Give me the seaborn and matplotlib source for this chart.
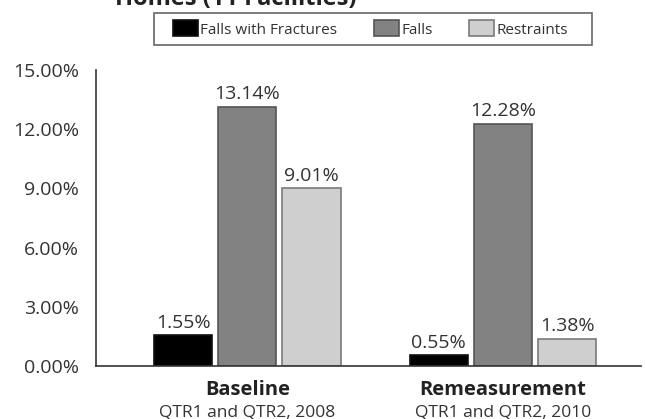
import matplotlib
matplotlib.use("Agg")
import matplotlib.pyplot as plt
from matplotlib.patches import Patch, Rectangle
from matplotlib.ticker import FuncFormatter
import seaborn as sns
import pandas as pd

# Measurement periods and their date ranges
periods = ["Baseline", "Remeasurement"]
period_dates = ["QTR1 and QTR2, 2008", "QTR1 and QTR2, 2010"]

# Indicator rates (%) per period
measures = ["Falls with Fractures", "Falls", "Restraints"]
falls_with_fractures = [1.55, 0.55]
falls = [13.14, 12.28]
restraints = [9.01, 1.38]

y_ticks = [0, 3, 6, 9, 12, 15]

fills = ["#000000", "#828282", "#cfcfcf"]
edges = ["#111111", "#555555", "#7a7a7a"]

df = pd.DataFrame({
    "period": periods * 3,
    "measure": [m for m in measures for _ in periods],
    "rate": falls_with_fractures + falls + restraints,
})

sns.set_theme(style="white")
plt.rcParams["font.family"] = ["Open Sans", "DejaVu Sans"]

W, H = 645, 419
fig = plt.figure(figsize=(W / 100, H / 100), dpi=100)
ax = fig.add_axes([96 / W, 1 - 366 / H, 545 / W, 296 / H])

sns.barplot(data=df, x="period", y="rate", hue="measure", order=periods,
            hue_order=measures, palette=fills, width=0.753, gap=0.095,
            ax=ax, legend=False, saturation=1)

for cont, ec in zip(ax.containers, edges):
    for bar in cont:
        bar.set_edgecolor(ec)
        bar.set_linewidth(1.2)
    ax.bar_label(cont, fmt="%.2f%%", padding=2.5, fontsize=14, color="#333333")

ax.set_ylim(0, 15)
ax.set_xlim(-0.592, 1.54)
ax.set_yticks(y_ticks)
ax.yaxis.set_major_formatter(FuncFormatter(lambda v, p: f"{v:.2f}%"))
ax.tick_params(axis="y", direction="in", length=9, width=1.1, color="#333333",
               labelsize=14, labelcolor="#333333", pad=12)
ax.tick_params(axis="x", length=0, labelbottom=False)
ax.set_xlabel("")
ax.set_ylabel("")
for side in ("top", "right"):
    ax.spines[side].set_visible(False)
for side in ("left", "bottom"):
    ax.spines[side].set_color("#333333")
    ax.spines[side].set_linewidth(1.2)

# Two-line category labels: bold period name, regular date range
for i, (p, d) in enumerate(zip(periods, period_dates)):
    ax.annotate(p, xy=(i, 0), xycoords=("data", "axes fraction"),
                xytext=(0, -29), textcoords="offset pixels",
                ha="center", va="baseline", fontsize=14.5, fontweight="bold",
                color="#222222")
    ax.annotate(d, xy=(i, 0), xycoords=("data", "axes fraction"),
                xytext=(0, -50), textcoords="offset pixels",
                ha="center", va="baseline", fontsize=12.5, color="#333333")

fig.text(115 / W, 1 - 5 / H, "Homes (11 Facilities)", fontsize=17,
         fontweight="bold", color="#222222", ha="left", va="baseline")

# Legend entries without a frame, inside a hand-placed box
handles = [Patch(facecolor=f, edgecolor=e, linewidth=1.2) for f, e in zip(fills, edges)]
leg = fig.legend(handles, measures, loc="center left",
                 bbox_to_anchor=(173 / W, 1 - 29 / H), ncol=3,
                 fontsize=11, frameon=False, handlelength=1.63,
                 handleheight=1.24, handletextpad=0.15, columnspacing=2.4,
                 borderpad=0, borderaxespad=0)
for t in leg.get_texts():
    t.set_color("#333333")

box = Rectangle((154 / W, 1 - 45 / H), 438 / W, 32 / H, transform=fig.transFigure,
                facecolor="none", edgecolor="#666666", linewidth=1.2)
fig.patches.append(box)

fig.savefig("out.png", dpi=100)
